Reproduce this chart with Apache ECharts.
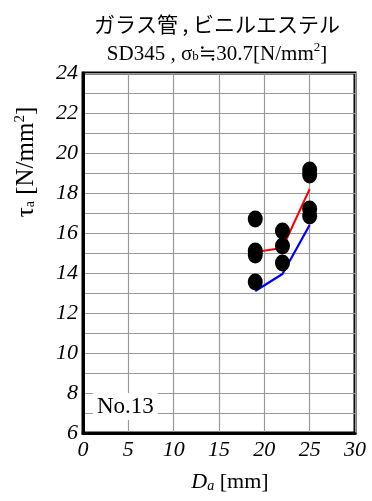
<!DOCTYPE html>
<html>
<head>
<meta charset="utf-8">
<script src="https://cdn.jsdelivr.net/npm/echarts@6/dist/echarts.min.js"></script>
<style>
  html, body { margin: 0; padding: 0; background: #fff; }
  #main { width: 372px; height: 501px; }
</style>
</head>
<body>
<div id="main"></div>
<script>
// measured points (Da [mm], tau_a [N/mm2])
var pointX = [19, 19, 19, 19, 22, 22, 22, 25, 25, 25, 25];
var pointY = [16.7, 15.1, 14.9, 13.55, 16.1, 15.35, 14.5, 19.15, 18.9, 17.2, 16.85];
// calculated lines
var lineX = [19, 22, 25];
var redY = [15.05, 15.25, 18.2];
var blueY = [13.1, 13.95, 16.4];

var serif = '"Liberation Serif", "DejaVu Serif", serif';
var serifItalic = '"Liberation Serif Italic", "Liberation Serif", serif';

var scatterData = pointX.map(function (x, i) { return [x, pointY[i]]; });
var redData = lineX.map(function (x, i) { return [x, redY[i]]; });
var blueData = lineX.map(function (x, i) { return [x, blueY[i]]; });

var myChart = echarts.init(document.getElementById('main'));
var option = {
    backgroundColor: '#fff',
    animation: false,
    title: {
        text: '{j|ガラス管 , ビニルエステル}\n{n|SD345 , σ}{s|b}{n|≒30.7[N/mm}{sup|2}{n|]}',
        left: 212,
        textAlign: 'center',
        top: 4,
        textStyle: {
            fontSize: 20,
            fontWeight: 'normal',
            color: '#000',
            lineHeight: 30,
            rich: {
                j: { fontFamily: '"Noto Sans CJK JP", ' + serif, fontSize: 21, color: '#000', lineHeight: 30 },
                n: { fontFamily: serif, fontSize: 21, color: '#000', lineHeight: 30 },
                s: { fontFamily: serif, fontSize: 13, color: '#000', lineHeight: 30, padding: [6, 0, 0, 0] },
                sup: { fontFamily: serif, fontSize: 13, color: '#000', lineHeight: 30, padding: [0, 0, 12, 0] }
            }
        }
    },
    grid: {
        left: 83,
        right: 17,
        top: 73,
        bottom: 68,
        show: true,
        borderColor: '#000',
        borderWidth: 3
    },
    xAxis: {
        type: 'value',
        min: 0,
        max: 30,
        interval: 5,
        name: '{d|D}{a|a}{t| [mm]}',
        nameLocation: 'middle',
        nameGap: 38,
        nameTextStyle: {
            padding: [0, 0, 0, 22],
            rich: {
                d: { fontFamily: serif, fontStyle: 'italic', fontSize: 22, color: '#000' },
                a: { fontFamily: serif, fontStyle: 'italic', fontSize: 14, color: '#000', padding: [8, 0, 0, 0] },
                t: { fontFamily: serif, fontSize: 22, color: '#000' }
            }
        },
        axisLine: { lineStyle: { color: '#000', width: 3 } },
        axisTick: { show: false },
        axisLabel: {
            margin: 6,
            fontFamily: serifItalic,
            fontStyle: 'italic',
            fontSize: 22,
            color: '#000'
        },
        splitLine: { show: true, lineStyle: { color: '#999', width: 1.2 } }
    },
    yAxis: {
        type: 'value',
        min: 6,
        max: 24,
        interval: 1,
        axisLine: { lineStyle: { color: '#000', width: 3 } },
        axisTick: { show: false },
        axisLabel: {
            margin: 5,
            fontFamily: serifItalic,
            fontStyle: 'italic',
            fontSize: 22,
            color: '#000',
            formatter: function (v) { return v % 2 === 0 ? String(v) : ''; }
        },
        splitLine: { show: true, lineStyle: { color: '#999', width: 1.2 } }
    },
    graphic: [
        {
            type: 'text',
            x: 26,
            y: 162,
            rotation: Math.PI / 2,
            style: {
                text: '{t|τ}{s|a}{n| [N/mm}{sup|2}{n|]}',
                align: 'center',
                verticalAlign: 'middle',
                rich: {
                    t: { fontFamily: serif, fontSize: 25, fill: '#000' },
                    s: { fontFamily: serif, fontSize: 14, fill: '#000', padding: [8, 0, 0, 0] },
                    n: { fontFamily: serif, fontSize: 25, fill: '#000' },
                    sup: { fontFamily: serif, fontSize: 15, fill: '#000', padding: [0, 0, 11, 0] }
                }
            }
        },
        {
            type: 'text',
            left: 93,
            top: 393,
            z: 10,
            style: {
                text: 'No.13',
                fontFamily: serif,
                fontSize: 23,
                fill: '#000',
                backgroundColor: '#fff',
                padding: [2, 4, 2, 4]
            }
        }
    ],
    series: [
        {
            type: 'line',
            data: redData,
            showSymbol: false,
            symbol: 'none',
            lineStyle: { color: '#ff0000', width: 2 },
            z: 2
        },
        {
            type: 'line',
            data: blueData,
            showSymbol: false,
            symbol: 'none',
            lineStyle: { color: '#0000ff', width: 2.2 },
            z: 2
        },
        {
            type: 'scatter',
            data: scatterData,
            symbol: 'circle',
            symbolSize: [15, 17],
            itemStyle: { color: '#000', opacity: 1 },
            z: 3
        }
    ]
};
myChart.setOption(option);
</script>
</body>
</html>
